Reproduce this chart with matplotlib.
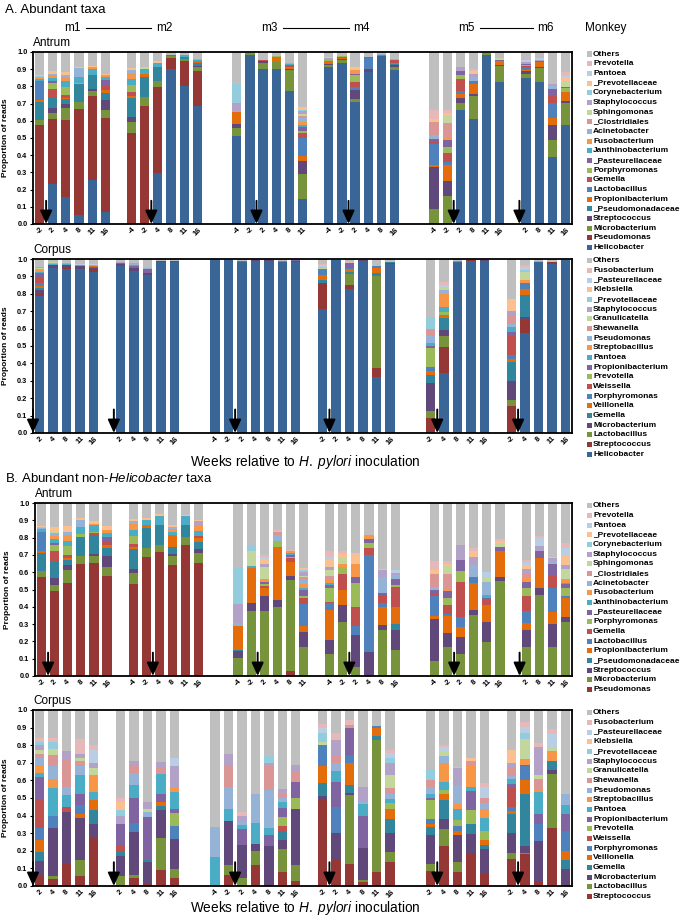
import numpy as np
import matplotlib
matplotlib.use('Agg')
import matplotlib.pyplot as plt
from matplotlib.patches import Rectangle

plt.rcParams['font.family'] = 'Liberation Sans'
plt.rcParams['mathtext.fontset'] = 'custom'
plt.rcParams['mathtext.rm'] = 'Liberation Sans'
plt.rcParams['mathtext.it'] = 'Liberation Sans:italic'

# ----- sampling weeks (relative to inoculation) per monkey -----
monkeys = ['m1', 'm2', 'm3', 'm4', 'm5', 'm6']
antrum_weeks = [[-2, 2, 4, 8, 11, 16], [-4, -2, 4, 8, 11, 16], [-4, -2, 2, 4, 8, 11],
                [-4, -2, 2, 4, 8, 16], [-4, -2, 2, 8, 11, 16], [2, 8, 11, 16]]
corpus_weeks = [[2, 4, 8, 11, 16], [2, 4, 8, 11, 16], [-4, -2, 2, 4, 8, 11, 16],
                [-2, 2, 4, 8, 11, 16], [-2, 4, 8, 11, 16], [-2, 4, 8, 11, 16]]

# ----- taxa, bottom of the stack first ('Others' = rest up to 1) -----
antrum_taxa = [('Hel', 'Helicobacter'), ('Pse', 'Pseudomonas'), ('Mic', 'Microbacterium'),
               ('Stc', 'Streptococcus'), ('Psd', '_Pseudomonadaceae'), ('Pro', 'Propionibacterium'),
               ('Lac', 'Lactobacillus'), ('Gem', 'Gemella'), ('Por', 'Porphyromonas'),
               ('Pas', '_Pasteurellaceae'), ('Jan', 'Janthinobacterium'), ('Fus', 'Fusobacterium'),
               ('Aci', 'Acinetobacter'), ('Clo', '_Clostridiales'), ('Sph', 'Sphingomonas'),
               ('Sta', 'Staphylococcus'), ('Cor', 'Corynebacterium'), ('Pvc', '_Prevotellaceae'),
               ('Pan', 'Pantoea'), ('Pre', 'Prevotella')]
corpus_taxa = [('Hel', 'Helicobacter'), ('Stc', 'Streptococcus'), ('Lac', 'Lactobacillus'),
               ('Mic', 'Microbacterium'), ('Gem', 'Gemella'), ('Vei', 'Veillonella'),
               ('Por', 'Porphyromonas'), ('Wei', 'Weissella'), ('Pre', 'Prevotella'),
               ('Pro', 'Propionibacterium'), ('Pan', 'Pantoea'), ('Stb', 'Streptobacillus'),
               ('Psm', 'Pseudomonas'), ('She', 'Shewanella'), ('Gra', 'Granulicatella'),
               ('Sta', 'Staphylococcus'), ('Pvc', '_Prevotellaceae'), ('Kle', 'Klebsiella'),
               ('Pas', '_Pasteurellaceae'), ('Fus', 'Fusobacterium')]

palette = ['#3A6597', '#953735', '#77933C', '#60497A', '#31859C', '#E46C0A',
           '#4F81BD', '#C0504D', '#9BBB59', '#8064A2', '#4BACC6', '#F79646',
           '#95B3D7', '#D99694', '#C3D69B', '#B3A2C7', '#93CDDD', '#FAC090',
           '#B9CDE5', '#E6B9B8']
others_color = '#BFBFBF'

# ----- A. antrum, all taxa (proportion of reads per sample) -----
antrum_all = [
    {'Pse': .575, 'Mic': .03, 'Psd': .105, 'Pro': .01, 'Lac': .11, 'Jan': .015, 'Fus': .005, 'Aci': .005, 'Cor': .005, 'Pvc': .005},
    {'Hel': .235, 'Pse': .375, 'Mic': .035, 'Stc': .03, 'Psd': .065, 'Gem': .045, 'Por': .035, 'Pas': .01, 'Jan': .02, 'Fus': .015, 'Aci': .01, 'Pvc': .015},
    {'Hel': .155, 'Pse': .45, 'Mic': .07, 'Stc': .025, 'Psd': .025, 'Pro': .01, 'Gem': .015, 'Por': .045, 'Jan': .035, 'Fus': .025, 'Aci': .01, 'Pvc': .02},
    {'Hel': .05, 'Pse': .62, 'Mic': .04, 'Psd': .105, 'Por': .005, 'Jan': .035, 'Aci': .05, 'Pvc': .01},
    {'Hel': .255, 'Pse': .49, 'Mic': .03, 'Stc': .01, 'Psd': .08, 'Jan': .035, 'Fus': .01, 'Pvc': .01},
    {'Hel': .07, 'Pse': .545, 'Mic': .045, 'Stc': .06, 'Psd': .04, 'Pro': .02, 'Gem': .02, 'Pas': .04, 'Jan': .015, 'Fus': .01, 'Pvc': .01},
    {'Pse': .53, 'Mic': .065, 'Stc': .025, 'Psd': .115, 'Pro': .01, 'Gem': .02, 'Por': .045, 'Jan': .035, 'Fus': .035, 'Aci': .015, 'Pvc': .01},
    {'Pse': .685, 'Mic': .055, 'Psd': .115, 'Pro': .02, 'Jan': .025, 'Sph': .01, 'Pvc': .005},
    {'Hel': .295, 'Pse': .50, 'Mic': .035, 'Psd': .085, 'Jan': .02, 'Pvc': .01},
    {'Hel': .90, 'Pse': .065, 'Mic': .01, 'Psd': .005, 'Jan': .005},
    {'Hel': .80, 'Pse': .15, 'Mic': .01, 'Psd': .01, 'Jan': .01, 'Fus': .005},
    {'Hel': .685, 'Pse': .205, 'Mic': .02, 'Stc': .01, 'Psd': .015, 'Pro': .01, 'Jan': .01, 'Fus': .005},
    {'Hel': .51, 'Mic': .05, 'Stc': .02, 'Pro': .07, 'Aci': .005, 'Sta': .05, 'Cor': .11},
    {'Hel': .985, 'Mic': .005, 'Pro': .003},
    {'Hel': .90, 'Mic': .035, 'Stc': .01, 'Pro': .005, 'Gem': .005},
    {'Hel': .90, 'Mic': .04, 'Pro': .03, 'Por': .005},
    {'Hel': .775, 'Mic': .12, 'Stc': .005, 'Pro': .015, 'Gem': .005, 'Pas': .005, 'Jan': .005, 'Aci': .005},
    {'Hel': .145, 'Mic': .145, 'Stc': .075, 'Pro': .03, 'Lac': .105, 'Gem': .03, 'Por': .01, 'Pas': .025, 'Jan': .01, 'Fus': .02, 'Aci': .02, 'Clo': .015, 'Sph': .01, 'Sta': .015, 'Cor': .01, 'Pvc': .015},
    {'Hel': .91, 'Mic': .015, 'Stc': .005, 'Pro': .015, 'Lac': .005, 'Por': .01, 'Sta': .005, 'Pvc': .005},
    {'Hel': .935, 'Mic': .02, 'Stc': .006, 'Pro': .006, 'Gem': .005, 'Por': .004},
    {'Hel': .71, 'Mic': .015, 'Stc': .055, 'Lac': .015, 'Gem': .03, 'Por': .04, 'Pas': .01, 'Fus': .02, 'Pvc': .02},
    {'Hel': .885, 'Stc': .015, 'Lac': .065, 'Gem': .005, 'Por': .003},
    {'Hel': .975, 'Mic': .007, 'Lac': .003, 'Aci': .003},
    {'Hel': .895, 'Mic': .015, 'Stc': .015, 'Psd': .003, 'Pro': .01, 'Gem': .013, 'Pas': .004, 'Aci': .004},
    {'Mic': .087, 'Stc': .243, 'Pro': .015, 'Lac': .12, 'Gem': .012, 'Pas': .02, 'Aci': .02, 'Clo': .075, 'Pvc': .018, 'Pre': .055},
    {'Mic': .165, 'Stc': .085, 'Pro': .095, 'Lac': .015, 'Gem': .05, 'Por': .04, 'Pas': .04, 'Fus': .01, 'Clo': .09, 'Sph': .045, 'Pvc': .01, 'Pre': .02},
    {'Hel': .66, 'Mic': .045, 'Stc': .03, 'Pro': .02, 'Lac': .02, 'Gem': .07, 'Por': .02, 'Pas': .022, 'Sta': .028},
    {'Hel': .61, 'Mic': .135, 'Stc': .01, 'Pro': .06, 'Lac': .015, 'Aci': .025, 'Sta': .02, 'Pvc': .015, 'Pre': .01},
    {'Hel': .985, 'Mic': .005, 'Pro': .003},
    {'Hel': .825, 'Mic': .095, 'Stc': .004, 'Pro': .026, 'Pas': .005, 'Sph': .008},
    {'Hel': .85, 'Mic': .025, 'Stc': .015, 'Pro': .006, 'Lac': .01, 'Gem': .013, 'Por': .008, 'Pas': .005, 'Fus': .004, 'Sta': .008, 'Pan': .011},
    {'Hel': .825, 'Mic': .082, 'Stc': .007, 'Pro': .028, 'Pas': .007, 'Sta': .006, 'Pan': .009},
    {'Hel': .39, 'Mic': .10, 'Stc': .083, 'Pro': .043, 'Lac': .085, 'Gem': .043, 'Pas': .043, 'Aci': .015, 'Sta': .01},
    {'Hel': .575, 'Mic': .13, 'Stc': .013, 'Pro': .047, 'Lac': .004, 'Por': .02, 'Pas': .01, 'Sph': .025, 'Pvc': .03, 'Pan': .015, 'Pre': .015},
]

# ----- A. corpus, all taxa -----
corpus_all = [
    {'Hel': .79, 'Stc': .014, 'Mic': .016, 'Gem': .012, 'Vei': .013, 'Por': .015, 'Wei': .034, 'Pro': .026, 'Pan': .004, 'Stb': .011, 'Psm': .008, 'Gra': .005, 'Sta': .007},
    {'Hel': .95, 'Mic': .013, 'Pan': .008, 'Psm': .004, 'She': .003, 'Gra': .002},
    {'Hel': .945, 'Stc': .007, 'Mic': .015, 'Pan': .003, 'She': .008},
    {'Hel': .94, 'Lac': .005, 'Mic': .013, 'Pan': .006, 'Psm': .003, 'Pas': .004},
    {'Hel': .925, 'Stc': .02, 'Mic': .005, 'Gem': .005, 'Vei': .004, 'Stb': .007, 'Pas': .004},
    {'Hel': .96, 'Mic': .01, 'Pro': .006, 'Sta': .004, 'Kle': .004},
    {'Hel': .93, 'Mic': .017, 'Por': .004, 'Pro': .01, 'Pan': .005, 'Psm': .004, 'She': .004, 'Sta': .002},
    {'Hel': .91, 'Mic': .012, 'Pro': .022, 'Psm': .003, 'Sta': .003},
    {'Hel': .98, 'Lac': .004, 'Mic': .003, 'Pan': .003},
    {'Hel': .985, 'Mic': .003, 'Sta': .003},
    {'Hel': .995, 'Pan': .002, 'Psm': .002},
    {'Hel': .995, 'Mic': .002},
    {'Hel': .98, 'Mic': .004, 'Pro': .002},
    {'Hel': .99, 'Mic': .002},
    {'Hel': .99, 'Mic': .002, 'Psm': .002},
    {'Hel': .985, 'Lac': .003, 'Mic': .002},
    {'Hel': .985, 'Mic': .005, 'Pro': .002},
    {'Hel': .715, 'Stc': .14, 'Mic': .006, 'Gem': .02, 'Vei': .027, 'Por': .034, 'Gra': .006, 'Pvc': .008, 'Pas': .008, 'Fus': .006},
    {'Hel': .995, 'Mic': .002},
    {'Hel': .83, 'Stc': .02, 'Lac': .065, 'Gem': .008, 'Vei': .02, 'Por': .008, 'Pro': .026, 'Fus': .005},
    {'Hel': .99, 'Mic': .003, 'Pro': .002},
    {'Hel': .32, 'Stc': .055, 'Lac': .53, 'Gem': .015, 'Vei': .03, 'Por': .01},
    {'Hel': .97, 'Stc': .004, 'Mic': .003, 'Gem': .003, 'Vei': .002, 'Gra': .003},
    {'Stc': .085, 'Lac': .04, 'Mic': .165, 'Gem': .045, 'Vei': .02, 'Por': .025, 'Pre': .11, 'Pro': .01, 'Pan': .02, 'Psm': .04, 'She': .04, 'Pvc': .065},
    {'Hel': .345, 'Stc': .15, 'Lac': .06, 'Mic': .035, 'Gem': .07, 'Vei': .02, 'Pre': .016, 'Pan': .03, 'Stb': .072, 'Psm': .026, 'Gra': .013, 'Pas': .013, 'Fus': .02},
    {'Hel': .98, 'Mic': .005, 'Pan': .003},
    {'Hel': .99, 'Stc': .003, 'Stb': .002},
    {'Hel': .99, 'Mic': .002, 'Stb': .002},
    {'Stc': .155, 'Lac': .035, 'Mic': .11, 'Gem': .11, 'Vei': .015, 'Por': .025, 'Wei': .11, 'Pro': .02, 'Pan': .03, 'Psm': .015, 'She': .045, 'Sta': .03, 'Kle': .07},
    {'Hel': .575, 'Stc': .077, 'Mic': .015, 'Gem': .125, 'Vei': .034, 'Por': .034, 'Wei': .004, 'Stb': .013, 'Gra': .049, 'Pvc': .013, 'Pas': .015, 'Fus': .011},
    {'Hel': .985, 'Sta': .005},
    {'Hel': .97, 'Stc': .01, 'Lac': .005},
    {'Hel': .995},
]

# ----- B. antrum, non-Helicobacter taxa -----
antrum_nonhp = [
    {'Pse': .575, 'Mic': .03, 'Psd': .105, 'Pro': .01, 'Lac': .11, 'Jan': .02, 'Aci': .005, 'Cor': .005, 'Pvc': .005},
    {'Pse': .49, 'Mic': .035, 'Stc': .04, 'Psd': .095, 'Gem': .06, 'Por': .04, 'Pas': .01, 'Jan': .02, 'Fus': .02, 'Aci': .015, 'Sph': .01, 'Pvc': .025},
    {'Pse': .535, 'Mic': .08, 'Stc': .025, 'Psd': .03, 'Pro': .01, 'Gem': .02, 'Por': .05, 'Jan': .03, 'Fus': .035, 'Aci': .015, 'Pvc': .035},
    {'Pse': .65, 'Mic': .045, 'Psd': .11, 'Por': .015, 'Jan': .04, 'Aci': .04, 'Pvc': .015},
    {'Pse': .655, 'Mic': .04, 'Stc': .01, 'Psd': .11, 'Gem': .01, 'Por': .01, 'Jan': .035, 'Fus': .01, 'Pvc': .015},
    {'Pse': .58, 'Mic': .05, 'Stc': .065, 'Psd': .045, 'Pro': .015, 'Gem': .025, 'Pas': .025, 'Jan': .02, 'Fus': .02, 'Pvc': .02},
    {'Pse': .53, 'Mic': .065, 'Stc': .025, 'Psd': .115, 'Pro': .01, 'Gem': .02, 'Por': .045, 'Jan': .035, 'Fus': .035, 'Aci': .015, 'Pvc': .01},
    {'Pse': .685, 'Mic': .055, 'Psd': .115, 'Pro': .02, 'Jan': .025, 'Sph': .01, 'Pvc': .005},
    {'Pse': .715, 'Mic': .045, 'Psd': .115, 'Jan': .05, 'Pvc': .01},
    {'Pse': .64, 'Mic': .055, 'Stc': .01, 'Psd': .04, 'Pro': .07, 'Jan': .02, 'Fus': .015, 'Aci': .01, 'Pvc': .015},
    {'Pse': .755, 'Mic': .05, 'Psd': .065, 'Jan': .055, 'Pvc': .005},
    {'Pse': .655, 'Mic': .055, 'Stc': .025, 'Psd': .04, 'Pro': .025, 'Gem': .01, 'Jan': .03, 'Fus': .03, 'Sta': .025, 'Pvc': .005},
    {'Pse': .005, 'Mic': .10, 'Stc': .04, 'Psd': .005, 'Pro': .14, 'Aci': .015, 'Sta': .11, 'Cor': .215},
    {'Mic': .375, 'Stc': .045, 'Pro': .205, 'Jan': .01, 'Sph': .085, 'Cor': .035},
    {'Mic': .375, 'Stc': .09, 'Pro': .045, 'Gem': .01, 'Por': .01, 'Pas': .015, 'Fus': .015, 'Sph': .07, 'Sta': .02, 'Pvc': .025, 'Pan': .015, 'Pre': .01},
    {'Mic': .40, 'Stc': .04, 'Pro': .305, 'Por': .035, 'Aci': .035, 'Clo': .02, 'Pre': .01},
    {'Pse': .03, 'Mic': .525, 'Stc': .025, 'Pro': .08, 'Gem': .02, 'Por': .01, 'Pas': .01, 'Jan': .01, 'Fus': .01, 'Pre': .01},
    {'Mic': .165, 'Stc': .09, 'Pro': .035, 'Lac': .125, 'Gem': .035, 'Por': .015, 'Pas': .03, 'Jan': .015, 'Fus': .02, 'Aci': .025, 'Clo': .015, 'Sph': .01, 'Sta': .02, 'Cor': .01, 'Pvc': .015},
    {'Mic': .13, 'Stc': .08, 'Pro': .17, 'Lac': .04, 'Gem': .01, 'Por': .08, 'Pas': .015, 'Jan': .01, 'Fus': .02, 'Clo': .025, 'Sph': .03, 'Sta': .02, 'Pvc': .04, 'Pan': .02, 'Pre': .03},
    {'Mic': .31, 'Stc': .10, 'Pro': .09, 'Gem': .09, 'Por': .04, 'Fus': .02, 'Sph': .04, 'Pvc': .015, 'Pre': .015},
    {'Mic': .05, 'Stc': .185, 'Lac': .055, 'Gem': .11, 'Por': .135, 'Pas': .04, 'Fus': .075, 'Pvc': .06},
    {'Stc': .14, 'Lac': .56, 'Gem': .04, 'Por': .03, 'Pas': .02, 'Fus': .025},
    {'Mic': .265, 'Stc': .03, 'Pro': .105, 'Lac': .02, 'Gem': .05, 'Pas': .01, 'Aci': .095, 'Sta': .035, 'Pan': .01},
    {'Mic': .15, 'Stc': .115, 'Psd': .035, 'Pro': .10, 'Gem': .115, 'Por': .01, 'Pas': .035, 'Aci': .025, 'Sta': .01, 'Pan': .015},
    {'Mic': .087, 'Stc': .243, 'Pro': .015, 'Lac': .12, 'Gem': .012, 'Pas': .02, 'Aci': .02, 'Clo': .075, 'Pvc': .018, 'Pre': .055},
    {'Mic': .165, 'Stc': .085, 'Pro': .095, 'Lac': .015, 'Gem': .05, 'Por': .04, 'Pas': .04, 'Fus': .01, 'Clo': .09, 'Sph': .045, 'Pvc': .01, 'Pre': .02},
    {'Mic': .13, 'Stc': .095, 'Pro': .06, 'Lac': .055, 'Gem': .205, 'Por': .06, 'Pas': .065, 'Sta': .085},
    {'Mic': .35, 'Stc': .03, 'Pro': .155, 'Lac': .04, 'Aci': .065, 'Sta': .05, 'Pvc': .03, 'Pre': .02},
    {'Mic': .195, 'Stc': .115, 'Pro': .10, 'Gem': .03, 'Pas': .01, 'Jan': .02, 'Aci': .075, 'Sph': .03, 'Pan': .025},
    {'Mic': .55, 'Stc': .02, 'Pro': .15, 'Pas': .025, 'Sph': .025, 'Pvc': .01, 'Pre': .01},
    {'Mic': .165, 'Stc': .10, 'Pro': .04, 'Lac': .07, 'Gem': .085, 'Por': .05, 'Pas': .035, 'Fus': .025, 'Clo': .02, 'Sta': .03, 'Pvc': .02, 'Pan': .02, 'Pre': .01},
    {'Mic': .47, 'Stc': .04, 'Pro': .17, 'Gem': .01, 'Pas': .03, 'Sta': .03, 'Pan': .05, 'Pre': .01},
    {'Mic': .165, 'Stc': .135, 'Pro': .07, 'Lac': .14, 'Gem': .07, 'Pas': .07, 'Aci': .015, 'Sta': .015, 'Pan': .01},
    {'Mic': .31, 'Stc': .03, 'Pro': .11, 'Lac': .01, 'Por': .05, 'Pas': .02, 'Jan': .01, 'Fus': .02, 'Sph': .06, 'Sta': .02, 'Pvc': .06, 'Pan': .04, 'Pre': .03},
]

# ----- B. corpus, non-Helicobacter taxa -----
corpus_nonhp = [
    {'Stc': .065, 'Mic': .075, 'Gem': .055, 'Vei': .065, 'Por': .07, 'Wei': .165, 'Pro': .125, 'Pan': .02, 'Stb': .05, 'Psm': .04, 'She': .02, 'Gra': .02, 'Sta': .03, 'Pvc': .02, 'Fus': .02},
    {'Stc': .04, 'Lac': .015, 'Mic': .275, 'Por': .07, 'Pan': .155, 'Stb': .055, 'Psm': .07, 'She': .065, 'Gra': .035, 'Pvc': .04, 'Fus': .02},
    {'Stc': .125, 'Mic': .295, 'Wei': .03, 'Pan': .065, 'Psm': .045, 'She': .16, 'Sta': .045},
    {'Stc': .055, 'Lac': .095, 'Mic': .235, 'Vei': .025, 'Por': .05, 'Pro': .06, 'Pan': .11, 'Psm': .05, 'She': .03, 'Gra': .02, 'Sta': .02, 'Fus': .085},
    {'Stc': .275, 'Mic': .08, 'Gem': .075, 'Vei': .06, 'Pan': .045, 'Stb': .095, 'Gra': .04, 'Sta': .03, 'Pas': .075, 'Fus': .025},
    {'Lac': .055, 'Mic': .115, 'Gem': .025, 'Wei': .035, 'Pro': .12, 'Sta': .05, 'Pvc': .03, 'Kle': .05, 'Fus': .02},
    {'Stc': .045, 'Lac': .02, 'Mic': .24, 'Por': .055, 'Pro': .14, 'Pan': .075, 'Psm': .065, 'She': .05, 'Sta': .02},
    {'Stc': .01, 'Mic': .125, 'Gem': .01, 'Pro': .245, 'Psm': .03, 'Gra': .02, 'Sta': .04},
    {'Stc': .09, 'Lac': .18, 'Mic': .16, 'Gem': .025, 'Vei': .02, 'Pro': .045, 'Pan': .115, 'She': .035, 'Sta': .035},
    {'Stc': .045, 'Lac': .05, 'Mic': .17, 'Por': .075, 'Pre': .075, 'Pro': .025, 'Pan': .095, 'Stb': .025, 'Sta': .12, 'Pas': .05},
    {'Pan': .165, 'Psm': .17},
    {'Stc': .06, 'Lac': .06, 'Mic': .25, 'Pan': .065, 'Psm': .125, 'She': .125, 'Sta': .065},
    {'Lac': .045, 'Mic': .19, 'Pro': .09, 'Pan': .02, 'Psm': .025, 'Sta': .03, 'Fus': .02},
    {'Stc': .12, 'Lac': .08, 'Mic': .04, 'Pan': .12, 'Psm': .16},
    {'Mic': .225, 'Pro': .065, 'Pan': .04, 'Psm': .215, 'She': .135, 'Sta': .02, 'Pvc': .04},
    {'Stc': .08, 'Lac': .13, 'Mic': .05, 'Gem': .05, 'Wei': .03, 'Pre': .05, 'Pro': .055, 'Pan': .035, 'Psm': .02, 'She': .02, 'Sta': .03},
    {'Stc': .03, 'Lac': .09, 'Mic': .315, 'Pre': .065, 'Pro': .09, 'She': .065, 'Sta': .03},
    {'Stc': .49, 'Mic': .02, 'Gem': .075, 'Vei': .095, 'Por': .12, 'Gra': .02, 'Pvc': .05, 'Pas': .03, 'Fus': .02},
    {'Stc': .145, 'Mic': .155, 'Por': .15, 'Pro': .14, 'Pan': .065, 'Psm': .045, 'She': .04, 'Sta': .09, 'Fus': .04},
    {'Stc': .125, 'Lac': .39, 'Mic': .015, 'Gem': .045, 'Vei': .125, 'Por': .045, 'Pro': .155, 'She': .015, 'Fus': .03},
    {'Stc': .02, 'Lac': .015, 'Mic': .18, 'Pro': .185, 'Pan': .065, 'Psm': .015, 'Sta': .08},
    {'Stc': .08, 'Lac': .75, 'Gem': .02, 'Vei': .045, 'Por': .015},
    {'Stc': .135, 'Lac': .06, 'Mic': .105, 'Gem': .08, 'Vei': .06, 'Pre': .03, 'Pan': .025, 'Psm': .03, 'She': .03, 'Gra': .075, 'Sta': .07, 'Pvc': .03, 'Pas': .025, 'Fus': .015},
    {'Stc': .085, 'Lac': .04, 'Mic': .165, 'Gem': .045, 'Vei': .02, 'Por': .025, 'Pre': .11, 'Pro': .01, 'Pan': .02, 'Psm': .04, 'She': .04, 'Pvc': .065},
    {'Stc': .23, 'Lac': .095, 'Mic': .055, 'Gem': .11, 'Vei': .03, 'Pre': .025, 'Pan': .045, 'Stb': .11, 'Psm': .04, 'Gra': .02, 'Pas': .03, 'Fus': .01},
    {'Stc': .08, 'Lac': .055, 'Mic': .155, 'Vei': .02, 'Por': .03, 'Pre': .035, 'Pan': .06, 'Stb': .03, 'Psm': .11, 'Sta': .095, 'Fus': .005},
    {'Stc': .19, 'Mic': .105, 'Gem': .055, 'Pre': .08, 'Pro': .11, 'Pan': .025, 'Stb': .115, 'She': .03, 'Kle': .02},
    {'Stc': .075, 'Mic': .135, 'Gem': .025, 'Vei': .025, 'Pre': .05, 'Pan': .075, 'Stb': .055, 'Psm': .03, 'She': .03, 'Pas': .06, 'Fus': .025},
    {'Stc': .155, 'Lac': .035, 'Mic': .11, 'Gem': .11, 'Vei': .015, 'Por': .025, 'Wei': .11, 'Pro': .02, 'Pan': .03, 'Psm': .015, 'She': .045, 'Sta': .03, 'Kle': .07},
    {'Stc': .18, 'Lac': .01, 'Mic': .035, 'Gem': .295, 'Vei': .08, 'Por': .08, 'Wei': .01, 'Stb': .03, 'Gra': .115, 'Pvc': .035, 'Pas': .035, 'Fus': .025},
    {'Stc': .03, 'Mic': .225, 'Por': .10, 'Pro': .055, 'Pan': .125, 'Stb': .015, 'She': .06, 'Gra': .02, 'Sta': .16, 'Fus': .02},
    {'Stc': .33, 'Lac': .305, 'Mic': .025, 'Gem': .05, 'Stb': .055, 'Gra': .025, 'Pas': .075, 'Fus': .025},
    {'Mic': .095, 'Gem': .055, 'Vei': .05, 'Por': .11, 'Pro': .10, 'Pan': .05, 'Psm': .06},
]

W, H = 682, 918
fig = plt.figure(figsize=(W / 100, H / 100), dpi=100)


def rect(l, r, t, b):
    return [l / W, 1 - b / H, (r - l) / W, (b - t) / H]


def slots(weeks):
    # bar positions on the category axis, with empty categories between monkeys
    xs, starts, pos = [], [], 0
    for g, wk in enumerate(weeks):
        starts.append(pos)
        xs += list(range(pos, pos + len(wk)))
        pos += len(wk) + (1 if g % 2 == 0 else 2)
    return np.array(xs), starts, pos - (1 if len(weeks) % 2 else 2)


def draw_panel(box, bars, taxa, colors, weeks, title):
    ax = fig.add_axes(rect(*box))
    xs, starts, nslot = slots(weeks)
    keys = [k for k, _ in taxa]
    mat = np.array([[b.get(k, 0) for k in keys] for b in bars])
    bottom = np.zeros(len(bars))
    for j in range(len(keys)):
        ax.bar(xs, mat[:, j], 0.7, bottom=bottom, color=colors[j], linewidth=0)
        bottom += mat[:, j]
    ax.bar(xs, 1 - bottom, 0.7, bottom=bottom, color=others_color, linewidth=0)

    ax.set_xlim(-0.5, nslot - 0.5)
    ax.set_ylim(0, 1)
    ax.set_yticks(np.arange(0, 1.01, 0.1))
    ax.set_yticklabels(['%.1f' % v for v in np.arange(0, 1.01, 0.1)],
                       fontsize=5.3, fontweight='bold')
    ax.set_xticks(xs)
    ax.set_xticklabels([str(w) for wk in weeks for w in wk], rotation=45,
                       fontsize=5.5, fontweight='bold')
    ax.tick_params(axis='x', length=0, pad=1.5)
    ax.tick_params(axis='y', length=2.5, width=0.8, pad=1.5)
    for s in ax.spines.values():
        s.set_linewidth(1.3)
    ax.set_ylabel('Proportion of reads', fontsize=6, fontweight='bold')
    ax.yaxis.set_label_coords(-0.045, 0.5)
    ax.text(0, 1.05, title, transform=ax.transAxes, fontsize=8.5, va='center', ha='left')

    # inoculation arrows
    for g, wk in enumerate(weeks):
        first = starts[g] + [i for i, w in enumerate(wk) if w > 0][0]
        ax.annotate('', xy=(first - 0.5, 0), xytext=(first - 0.5, 0.135),
                    arrowprops=dict(arrowstyle='-|>,head_length=0.8,head_width=0.36',
                                    color='black', lw=1.4, shrinkA=0, shrinkB=0),
                    annotation_clip=False)
    return ax, xs, starts


def draw_legend(taxa, colors, y0):
    entries = [('Others', others_color)] + [(n, c) for (_, n), c in zip(taxa, colors)][::-1]
    for i, (name, col) in enumerate(entries):
        y = y0 + i * 9.67
        fig.add_artist(Rectangle((586.5 / W, 1 - (y + 2.5) / H), 5 / W, 5 / H,
                                 transform=fig.transFigure, color=col, lw=0))
        fig.text(593 / W, 1 - y / H, name, fontsize=6, fontweight='bold',
                 va='center', ha='left')


ax1, xs1, st1 = draw_panel((33, 572, 52, 224), antrum_all, antrum_taxa, palette,
                           antrum_weeks, 'Antrum')
draw_legend(antrum_taxa, palette, 54)
draw_panel((33, 572, 259, 433), corpus_all, corpus_taxa, palette, corpus_weeks, 'Corpus')
draw_legend(corpus_taxa, palette, 260.7)
draw_panel((35, 572, 503, 676), antrum_nonhp, antrum_taxa[1:], palette[1:],
           antrum_weeks, 'Antrum')
draw_legend(antrum_taxa[1:], palette[1:], 505.7)
draw_panel((33, 572, 710, 886), corpus_nonhp, corpus_taxa[1:], palette[1:],
           corpus_weeks, 'Corpus')
draw_legend(corpus_taxa[1:], palette[1:], 712.7)

# monkey header above the first panel
tr = ax1.get_xaxis_transform()
for p in range(3):
    a, b = 2 * p, 2 * p + 1
    ca = st1[a] + (len(antrum_weeks[a]) - 1) / 2
    cb = st1[b] + (len(antrum_weeks[b]) - 1) / 2
    ax1.text(ca, 1.14, monkeys[a], transform=tr, fontsize=8.5, ha='center', va='center')
    ax1.text(cb, 1.14, monkeys[b], transform=tr, fontsize=8.5, ha='center', va='center')
    ax1.plot([ca + 1.0, cb - 1.0], [1.14, 1.14], transform=tr, color='black',
             lw=0.8, clip_on=False)
fig.text(585 / W, 1 - 28 / H, 'Monkey', fontsize=8.5, va='center', ha='left')

fig.text(5 / W, 1 - 10 / H, 'A. Abundant taxa', fontsize=9.5, va='center')
fig.text(5 / W, 1 - 478 / H, 'B. Abundant non-$\\it{Helicobacter}$ taxa', fontsize=9.5,
         va='center')
xlab = 'Weeks relative to $\\it{H.\\ pylori}$ inoculation'
fig.text(305 / W, 1 - 462 / H, xlab, fontsize=9.8, ha='center', va='center')
fig.text(305 / W, 1 - 908 / H, xlab, fontsize=9.8, ha='center', va='center')

fig.savefig('out.png', dpi=100)
